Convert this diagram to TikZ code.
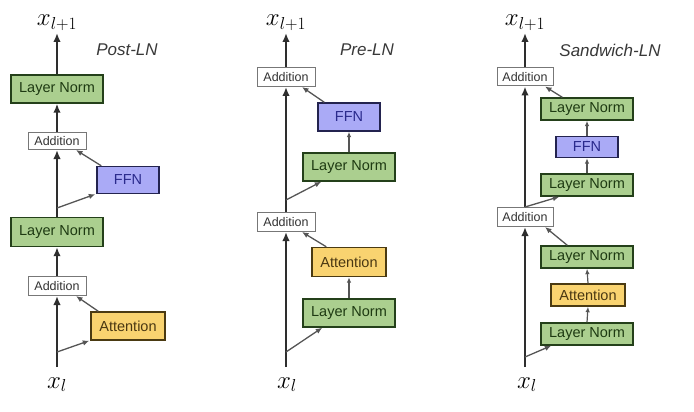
\documentclass[tikz,border=0pt]{standalone}
\usepackage{fontspec}
\setmainfont{Liberation Sans}
\usetikzlibrary{arrows.meta}
\definecolor{lnfill}{HTML}{ABCF8F}
\definecolor{lndraw}{HTML}{24401A}
\definecolor{lntext}{HTML}{1E3A12}
\definecolor{ffnfill}{HTML}{AAAAF6}
\definecolor{ffndraw}{HTML}{23234F}
\definecolor{ffntext}{HTML}{2A2A8C}
\definecolor{attfill}{HTML}{F9D370}
\definecolor{attdraw}{HTML}{4A3A12}
\definecolor{atttext}{HTML}{4A3812}
\definecolor{adddraw}{HTML}{777777}
\definecolor{addtext}{HTML}{333333}
\definecolor{mainline}{HTML}{2E2E2E}
\definecolor{branchline}{HTML}{555555}
\begin{document}
\begin{tikzpicture}[x=1pt,y=-1pt,
  boxbase/.style={inner sep=0pt, line width=1.4pt, font=\fontsize{14.5}{16}\selectfont},
  lnbox/.style={boxbase, draw=lndraw, fill=lnfill, text=lntext, minimum width=92pt},
  ffnbox/.style={boxbase, draw=ffndraw, fill=ffnfill, text=ffntext, minimum width=62pt},
  attbox/.style={boxbase, draw=attdraw, fill=attfill, text=atttext, minimum width=74pt},
  addbox/.style={inner sep=0pt, line width=1pt, draw=adddraw, fill=white, text=addtext,
     minimum width=58pt, font=\fontsize{12.5}{14}\selectfont},
  mainarrow/.style={draw=mainline, line width=1.9pt, -{Latex[length=9pt,width=7.5pt]}},
  brarrow/.style={draw=branchline, line width=1.3pt, -{Latex[length=6.5pt,width=5.5pt]}},
  smallarrow/.style={draw=branchline, line width=1.2pt, -{Latex[length=5.5pt,width=4.5pt]}},
  title/.style={font=\fontsize{17}{20}\selectfont\itshape, text=black!78},
  xlab/.style={font=\fontsize{27}{30}\selectfont, anchor=base, inner sep=0pt}
]
\useasboundingbox (0,0) rectangle (694,412);

% ---------------- Post-LN ----------------
\node[title] (t1) at (127,50) {Post-LN};
\node[lnbox, minimum height=28pt] (ln1a) at (57,89) {Layer Norm};
\node[addbox, minimum height=17pt] (add1a) at (57,141) {Addition};
\node[ffnbox, minimum height=27pt] (ffn1) at (128,180) {FFN};
\node[lnbox, minimum height=29pt] (ln1b) at (57,232) {Layer Norm};
\node[addbox, minimum height=19pt] (add1b) at (57,286) {Addition};
\node[attbox, minimum height=28pt] (att1) at (128,326) {Attention};
\node[xlab] (xin1) at (57,388) {$x_l$};
\node[xlab] (xout1) at (57,26) {$x_{l+1}$};
\coordinate (bot1) at (57,367);
\coordinate (top1) at (57,33);
\coordinate (b1a) at (57,352);
\coordinate (b1b) at (57,208);

\draw[mainarrow] (bot1) -- (add1b.south);
\draw[mainarrow] (add1b.north) -- (ln1b.south);
\draw[mainarrow] (ln1b.north) -- (add1a.south);
\draw[mainarrow] (add1a.north) -- (ln1a.south);
\draw[mainarrow] (ln1a.north) -- (top1);
\draw[brarrow] (b1a) -- ([xshift=-1pt]att1.south west);
\draw[brarrow] ([xshift=8pt]att1.north west) -- ([xshift=19pt]add1b.south);
\draw[brarrow] (b1b) -- ([xshift=-1pt]ffn1.south west);
\draw[brarrow] ([xshift=5pt]ffn1.north west) -- ([xshift=19pt]add1a.south);

% ---------------- Pre-LN ----------------
\node[title] (t2) at (367,50) {Pre-LN};
\node[addbox, minimum height=19pt] (add2a) at (286,77) {Addition};
\node[ffnbox, minimum height=28pt] (ffn2) at (349,117) {FFN};
\node[lnbox, minimum height=28pt] (ln2a) at (349,167) {Layer Norm};
\node[addbox, minimum height=19pt] (add2b) at (286,222) {Addition};
\node[attbox, minimum height=29pt] (att2) at (349,262) {Attention};
\node[lnbox, minimum height=28pt] (ln2b) at (349,313) {Layer Norm};
\node[xlab] (xin2) at (287,388) {$x_l$};
\node[xlab] (xout2) at (286,26) {$x_{l+1}$};
\coordinate (bot2) at (286,367);
\coordinate (top2) at (286,33);
\coordinate (b2a) at (286,352);
\coordinate (b2b) at (286,200);

\draw[mainarrow] (bot2) -- (add2b.south);
\draw[mainarrow] (add2b.north) -- (add2a.south);
\draw[mainarrow] (add2a.north) -- (top2);
\draw[brarrow] (b2a) -- ([xshift=20pt]ln2b.south west);
\draw[smallarrow] (ln2b.north) -- (att2.south);
\draw[brarrow] ([xshift=15pt]att2.north west) -- ([xshift=16pt]add2b.south);
\draw[brarrow] (b2b) -- ([xshift=19pt]ln2a.south west);
\draw[smallarrow] (ln2a.north) -- (ffn2.south);
\draw[brarrow] ([xshift=7pt]ffn2.north west) -- ([xshift=16pt]add2a.south);

% ---------------- Sandwich-LN ----------------
\node[title] (t3) at (610,50) {Sandwich-LN};
\node[addbox, minimum width=56pt, minimum height=18pt] (add3a) at (525,77) {Addition};
\node[lnbox, minimum height=22pt] (ln3a) at (587,109) {Layer Norm};
\node[ffnbox, minimum height=21pt] (ffn3) at (587,147) {FFN};
\node[lnbox, minimum height=22pt] (ln3b) at (587,185) {Layer Norm};
\node[addbox, minimum width=56pt, minimum height=19pt] (add3b) at (525,217) {Addition};
\node[lnbox, minimum height=22pt] (ln3c) at (587,257) {Layer Norm};
\node[attbox, minimum height=22pt] (att3) at (588,295) {Attention};
\node[lnbox, minimum height=22pt] (ln3d) at (587,334) {Layer Norm};
\node[xlab] (xin3) at (527,388) {$x_l$};
\node[xlab] (xout3) at (525,26) {$x_{l+1}$};
\coordinate (bot3) at (525,367);
\coordinate (top3) at (525,33);
\coordinate (b3a) at (525,357);
\coordinate (b3b) at (525,207);

\draw[mainarrow] (bot3) -- (add3b.south);
\draw[mainarrow] (add3b.north) -- (add3a.south);
\draw[mainarrow] (add3a.north) -- (top3);
\draw[brarrow] (b3a) -- ([xshift=11pt]ln3d.south west);
\draw[smallarrow] (ln3d.north) -- (att3.south);
\draw[smallarrow] (att3.north) -- (ln3c.south);
\draw[brarrow] ([xshift=27pt]ln3c.north west) -- ([xshift=20pt]add3b.south);
\draw[brarrow] (b3b) -- ([xshift=19pt]ln3b.south west);
\draw[smallarrow] (ln3b.north) -- (ffn3.south);
\draw[smallarrow] (ffn3.north) -- (ln3a.south);
\draw[brarrow] ([xshift=22pt]ln3a.north west) -- ([xshift=20pt]add3a.south);
\end{tikzpicture}
\end{document}
